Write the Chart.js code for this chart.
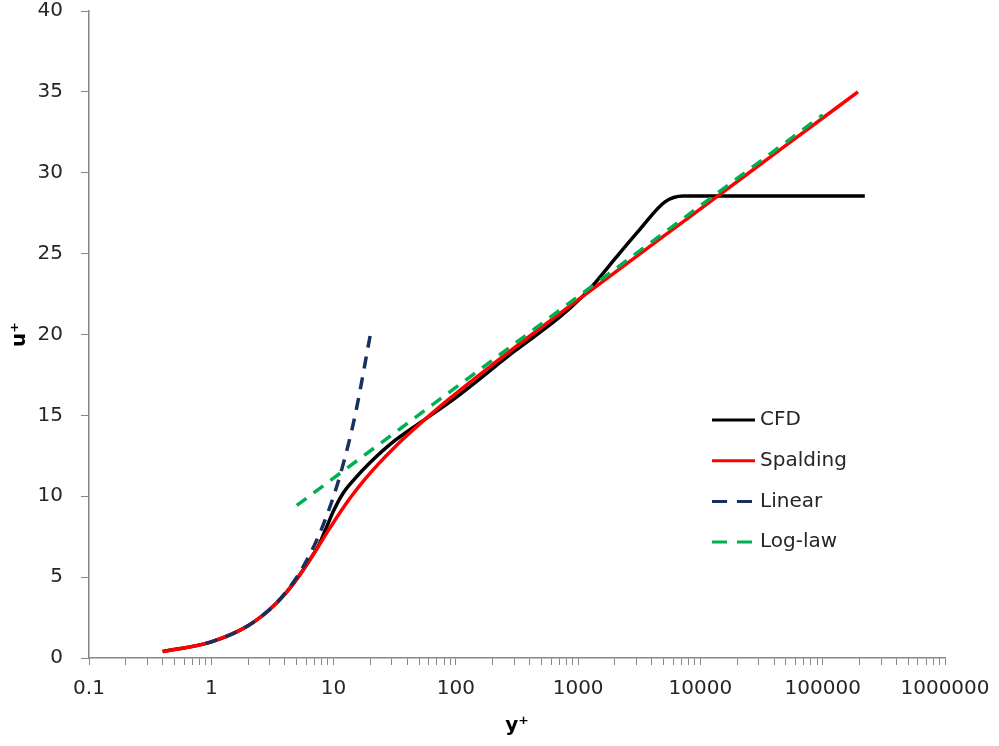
<!DOCTYPE html>
<html>
<head>
<meta charset="utf-8">
<title>u+ vs y+</title>
<script src="https://cdn.jsdelivr.net/npm/chart.js@4.4.1/dist/chart.umd.min.js"></script>
<style>
  html, body { margin: 0; padding: 0; background: #ffffff; }
  #wrap { width: 999px; height: 746px; }
</style>
</head>
<body>
<div id="wrap"><canvas id="chart" width="999" height="746"></canvas></div>
<script>
// ==========================
// Data
// ==========================
const cfdYPlus = [0.4, 1, 2, 3, 4.05, 5.13, 6.3, 7.6, 9, 10, 12, 15, 20, 30, 50, 100, 300, 700, 1100, 1330, 2060, 3200, 5130, 7240, 221000];
const cfdUPlus = [0.4, 1, 2, 3, 4, 5, 6, 7, 8.3, 9.1, 10.2, 11.1, 12.1, 13.3, 14.5, 16.1, 18.95, 21.05, 22.4, 23.06, 24.8, 26.5, 28.2, 28.56, 28.56];

const spaldingYPlus = [0.4, 0.8, 1, 2, 3.01, 4.05, 5.13, 6.31, 7.65, 9.26, 11.3, 14.0, 17.8, 23.3, 31.3, 43.2, 61, 87.7, 189, 419, 943, 2135, 4847, 11005, 24986, 56760, 194140];
const spaldingUPlus = [0.4, 0.8, 1, 2, 3, 4, 5, 6, 7, 8, 9, 10, 11, 12, 13, 14, 15, 16, 18, 20, 22, 24, 26, 28, 30, 32, 35];

const linearYPlus = [0.9, 1, 1.5, 2, 3, 4, 5, 6, 7, 8, 10, 12, 15, 20];
const linearUPlus = [0.9, 1, 1.5, 2, 3, 4, 5, 6, 7, 8, 10, 12, 15, 20];

const logLawYPlus = [5, 10, 100, 1000, 10000, 100000];
const logLawUPlus = [9.43, 11.12, 16.73, 22.35, 27.96, 33.58];

const xDecades = [0.1, 1, 10, 100, 1000, 10000, 100000, 1000000];
const yTickStep = 5;

const axisGray = "#868686";
const textColor = "#262626";
const fontFamily = "'DejaVu Sans', sans-serif";

function toPoints(xs, ys) {
  return xs.map((x, i) => ({ x: x, y: ys[i] }));
}

function isDecade(v) {
  const l = Math.log10(v);
  return Math.abs(l - Math.round(l)) < 1e-9;
}

// minor ticks 1..9 inside every decade
const xTickValues = [];
xDecades.forEach((d, i) => {
  if (i === xDecades.length - 1) {
    xTickValues.push(d);
    return;
  }
  for (let m = 1; m <= 9; m++) xTickValues.push(d * m);
});

// ==========================
// Legend drawn inside the plot
// ==========================
const legendOrder = [0, 1, 2, 3];
const legendLeft = 623;
const legendTop = 409;
const legendRowGap = 40.7;
const legendLineLen = 43;

const insideLegend = {
  id: "insideLegend",
  afterDraw(chart) {
    const { ctx, chartArea } = chart;
    ctx.save();
    legendOrder.forEach((idx, row) => {
      const ds = chart.data.datasets[idx];
      const x = chartArea.left + legendLeft;
      const y = chartArea.top + legendTop + row * legendRowGap;
      ctx.strokeStyle = ds.borderColor;
      ctx.lineWidth = 3;
      ctx.setLineDash(ds.legendDash || []);
      ctx.beginPath();
      ctx.moveTo(x, y);
      ctx.lineTo(x + legendLineLen, y);
      ctx.stroke();
      ctx.setLineDash([]);
      ctx.fillStyle = textColor;
      ctx.font = "20px " + fontFamily;
      ctx.textBaseline = "middle";
      ctx.textAlign = "left";
      ctx.fillText(ds.label, x + legendLineLen + 5, y);
    });
    ctx.restore();
  }
};

const ctx = document.getElementById("chart").getContext("2d");

new Chart(ctx, {
  type: "line",
  data: {
    datasets: [
      {
        label: "CFD",
        data: toPoints(cfdYPlus, cfdUPlus),
        borderColor: "#000000",
        borderWidth: 3.5,
        order: 4
      },
      {
        label: "Spalding",
        data: toPoints(spaldingYPlus, spaldingUPlus),
        borderColor: "#ff0000",
        borderWidth: 3.5,
        order: 3
      },
      {
        label: "Linear",
        data: toPoints(linearYPlus, linearUPlus),
        borderColor: "#17305f",
        borderWidth: 3.5,
        borderDash: [12, 9],
        legendDash: [15, 10],
        order: 2
      },
      {
        label: "Log-law",
        data: toPoints(logLawYPlus, logLawUPlus),
        borderColor: "#00b050",
        borderWidth: 3.5,
        borderDash: [12, 9],
        legendDash: [15, 10],
        order: 1
      }
    ]
  },
  options: {
    responsive: false,
    animation: false,
    layout: { padding: 0 },
    elements: {
      point: { radius: 0 },
      line: { cubicInterpolationMode: "monotone", fill: false }
    },
    plugins: {
      legend: { display: false },
      tooltip: { enabled: false }
    },
    scales: {
      x: {
        type: "logarithmic",
        min: xDecades[0],
        max: xDecades[xDecades.length - 1],
        afterBuildTicks: (scale) => {
          scale.ticks = xTickValues.map(v => ({ value: v, major: isDecade(v) }));
        },
        afterFit: (scale) => {
          scale.height = 88;
          scale.paddingLeft = 0;
          scale.paddingRight = 54;
        },
        border: { color: axisGray, width: 1.5 },
        grid: {
          drawOnChartArea: false,
          drawTicks: true,
          tickLength: 7,
          color: axisGray,
          tickColor: axisGray
        },
        ticks: {
          autoSkip: false,
          maxRotation: 0,
          padding: 12,
          color: textColor,
          font: { family: fontFamily, size: 20 },
          callback: (value) => isDecade(value) ? String(value) : ""
        },
        title: {
          display: true,
          text: "y⁺",
          color: "#000000",
          font: { family: fontFamily, size: 20, weight: "bold" },
          padding: { top: 0, bottom: 8 }
        }
      },
      y: {
        min: 0,
        max: 40,
        afterFit: (scale) => {
          scale.width = 89;
          scale.paddingTop = 11;
          scale.paddingBottom = 0;
        },
        border: { color: axisGray, width: 1.5 },
        grid: {
          drawOnChartArea: false,
          drawTicks: true,
          tickLength: 8,
          color: axisGray,
          tickColor: axisGray
        },
        ticks: {
          stepSize: yTickStep,
          padding: 18,
          color: textColor,
          font: { family: fontFamily, size: 20 }
        },
        title: {
          display: true,
          text: "u⁺",
          color: "#000000",
          font: { family: fontFamily, size: 20, weight: "bold" },
          padding: { top: 8, bottom: 0 }
        }
      }
    }
  },
  plugins: [insideLegend]
});
</script>
</body>
</html>
